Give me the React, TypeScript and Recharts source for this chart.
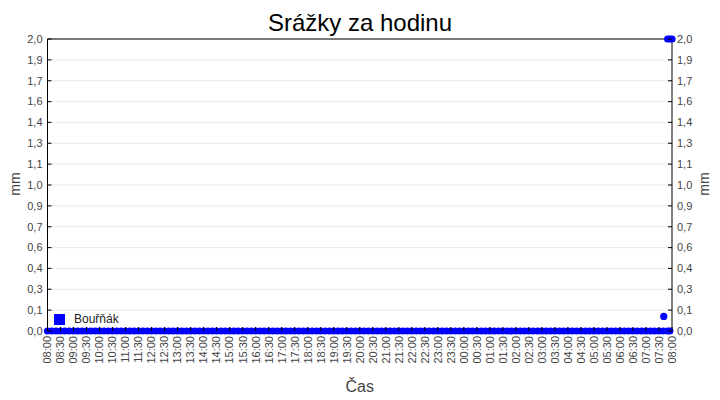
import React from 'react';
import { ScatterChart, Scatter, XAxis, YAxis, CartesianGrid, Legend, ReferenceLine } from 'recharts';

// 30 minute tick labels, 08:00 .. 08:00 next day
const timeLabels = [
  '08:00', '08:30', '09:00', '09:30', '10:00', '10:30', '11:00', '11:30',
  '12:00', '12:30', '13:00', '13:30', '14:00', '14:30', '15:00', '15:30',
  '16:00', '16:30', '17:00', '17:30', '18:00', '18:30', '19:00', '19:30',
  '20:00', '20:30', '21:00', '21:30', '22:00', '22:30', '23:00', '23:30',
  '00:00', '00:30', '01:00', '01:30', '02:00', '02:30', '03:00', '03:30',
  '04:00', '04:30', '05:00', '05:30', '06:00', '06:30', '07:00', '07:30',
  '08:00',
];

// readings every 10 minutes from 08:00 (mm per hour)
const baseValues = [
  0, 0, 0, 0, 0, 0, 0, 0, 0, 0, 0, 0,
  0, 0, 0, 0, 0, 0, 0, 0, 0, 0, 0, 0,
  0, 0, 0, 0, 0, 0, 0, 0, 0, 0, 0, 0,
  0, 0, 0, 0, 0, 0, 0, 0, 0, 0, 0, 0,
  0, 0, 0, 0, 0, 0, 0, 0, 0, 0, 0, 0,
  0, 0, 0, 0, 0, 0, 0, 0, 0, 0, 0, 0,
  0, 0, 0, 0, 0, 0, 0, 0, 0, 0, 0, 0,
  0, 0, 0, 0, 0, 0, 0, 0, 0, 0, 0, 0,
  0, 0, 0, 0, 0, 0, 0, 0, 0, 0, 0, 0,
  0, 0, 0, 0, 0, 0, 0, 0, 0, 0, 0, 0,
  0, 0, 0, 0, 0, 0, 0, 0, 0, 0, 0, 0,
  0, 0, 0, 0, 0, 0, 0, 0, 0, 0, 0, 0,
];
const STEP_MIN = 10;

// last readings near the end of the day (minutes after 08:00)
const lateMinutes = [1421, 1435, 1430, 1435, 1440];
const lateValues = [0.1, 0, 2.0, 2.0, 2.0];

const yTicks = [0, 0.143, 0.286, 0.429, 0.571, 0.714, 0.857, 1, 1.143, 1.286, 1.429, 1.571, 1.714, 1.857, 2];

const points = baseValues
  .map((v, i) => ({ t: i * STEP_MIN, v }))
  .concat(lateMinutes.map((t, i) => ({ t, v: lateValues[i] })));

const xTicks = timeLabels.map((_, i) => i * 30);

const FONT = 'Arial, "Liberation Sans", sans-serif';
const BLUE = '#0000ff';
const TXT = '#444';

const fmtY = (v: number) => v.toFixed(1).replace('.', ',');

const LeftTick = ({ x, y, payload }: any) => (
  <g>
    <line x1={x + 5} x2={x + 9} y1={y} y2={y} stroke="#000" />
    <text x={x} y={y} dy="0.35em" textAnchor="end" fontSize={11} fill={TXT} fontFamily={FONT}>
      {fmtY(payload.value)}
    </text>
  </g>
);

const RightTick = ({ x, y, payload }: any) => (
  <g>
    <line x1={x - 5} x2={x - 9} y1={y} y2={y} stroke="#000" />
    <text x={x} y={y} dy="0.35em" textAnchor="start" fontSize={11} fill={TXT} fontFamily={FONT}>
      {fmtY(payload.value)}
    </text>
  </g>
);

const BottomTick = ({ x, y, index }: any) => (
  <g>
    <line x1={x} x2={x} y1={y - 5} y2={y - 9} stroke="#000" />
    <text
      x={x}
      y={y}
      dy="0.35em"
      textAnchor="end"
      fontSize={11}
      fill={TXT}
      fontFamily={FONT}
      transform={`rotate(-90, ${x}, ${y})`}
    >
      {timeLabels[index] ?? ''}
    </text>
  </g>
);

const Dot = (p: any) => <circle cx={p.cx} cy={p.cy} r={3.6} fill={BLUE} />;
const NoDot = () => null;

const LegendBox = () => (
  <div style={{ display: 'flex', alignItems: 'center', fontFamily: FONT, fontSize: 12, color: '#222' }}>
    <span style={{ display: 'inline-block', width: 11, height: 11, background: BLUE, marginRight: 9 }} />
    <span>Bouřňák</span>
  </div>
);

export default function App() {
  return (
    <div style={{ position: 'absolute', left: 0, top: 0, width: 720, height: 400, background: '#fff' }}>
      <div
        style={{
          position: 'absolute', top: 11, left: 0, width: 720, textAlign: 'center',
          fontFamily: FONT, fontSize: 24, lineHeight: '24px', color: '#000',
        }}
      >
        Srážky za hodinu
      </div>
      <ScatterChart width={720} height={400} margin={{ top: 39, right: 0, bottom: 0, left: 0 }}>
        <CartesianGrid vertical={false} stroke="#e8e8e8" />
        <XAxis
          type="number"
          dataKey="t"
          domain={[0, 1440]}
          ticks={xTicks}
          interval={0}
          height={69}
          tickSize={0}
          tickMargin={5}
          tick={<BottomTick />}
          axisLine={{ stroke: '#000' }}
          label={{
            content: ({ viewBox }: any) => (
              <text x={viewBox.x + viewBox.width / 2} y={392} textAnchor="middle" fontSize={16} fill={TXT} fontFamily={FONT}>
                Čas
              </text>
            ),
          }}
        />
        <YAxis
          type="number"
          dataKey="v"
          domain={[0, 2]}
          ticks={yTicks}
          interval={0}
          width={47.5}
          tickSize={0}
          tickMargin={5}
          tick={<LeftTick />}
          axisLine={{ stroke: '#000' }}
          label={{
            content: () => (
              <text x={19.5} y={184} textAnchor="middle" fontSize={14} fill={TXT} fontFamily={FONT} transform="rotate(-90, 19.5, 184)">
                mm
              </text>
            ),
          }}
        />
        <YAxis
          yAxisId="right"
          orientation="right"
          type="number"
          dataKey="v"
          domain={[0, 2]}
          ticks={yTicks}
          interval={0}
          width={48}
          tickSize={0}
          tickMargin={5}
          tick={<RightTick />}
          axisLine={{ stroke: '#000' }}
          label={{
            content: () => (
              <text x={709} y={184} textAnchor="middle" fontSize={14} fill={TXT} fontFamily={FONT} transform="rotate(-90, 709, 184)">
                mm
              </text>
            ),
          }}
        />
        <ReferenceLine y={2} stroke="#000" />
        <Legend
          layout="vertical"
          align="center"
          verticalAlign="middle"
          content={<LegendBox />}
          wrapperStyle={{ left: 54, top: 312, width: 'auto', height: 'auto' }}
        />
        <Scatter yAxisId="right" data={points} shape={<NoDot />} legendType="none" isAnimationActive={false} />
        <Scatter name="Bouřňák" data={points} fill={BLUE} shape={<Dot />} isAnimationActive={false} />
      </ScatterChart>
    </div>
  );
}
